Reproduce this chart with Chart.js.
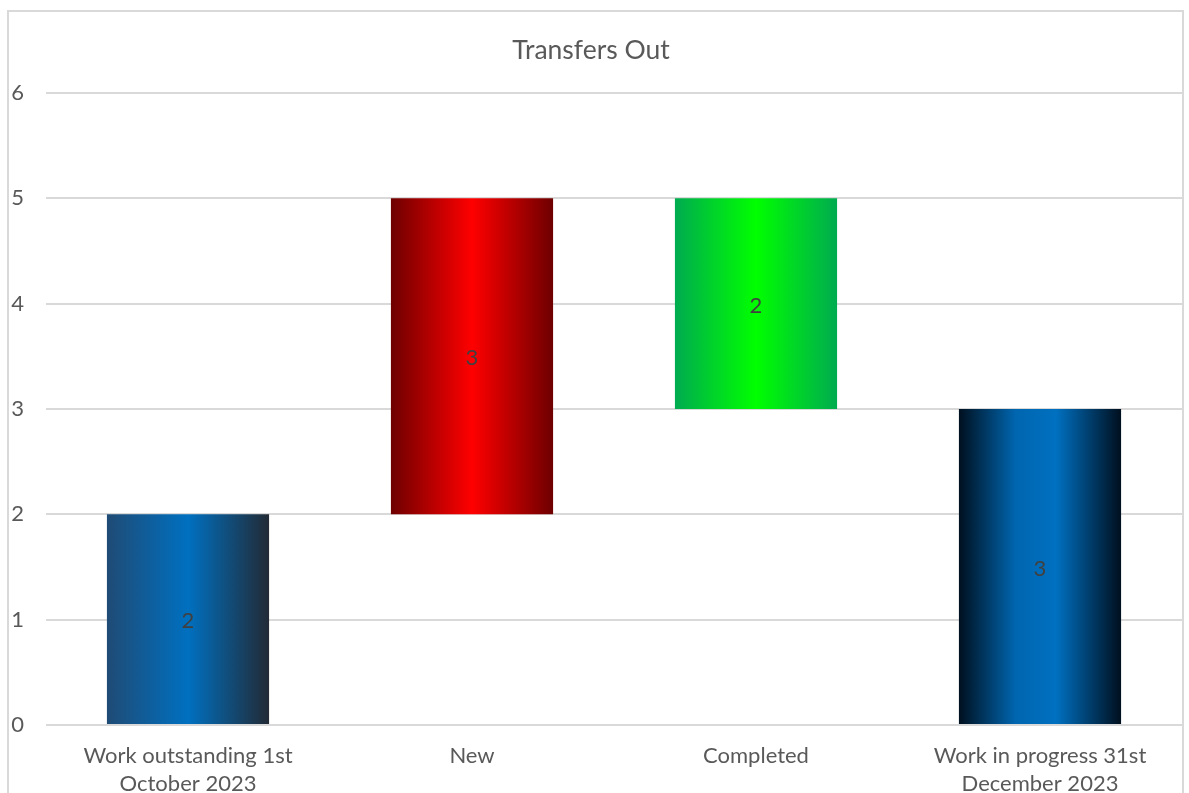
<!DOCTYPE html>
<html>
<head>
<meta charset="utf-8">
<title>Transfers Out</title>
<script src="https://cdn.jsdelivr.net/npm/chart.js@4/dist/chart.umd.min.js"></script>
<style>
  html, body { margin: 0; padding: 0; background: #ffffff; }
  #wrap { width: 1189px; height: 793px; }
</style>
</head>
<body>
<div id="wrap"><canvas id="chart" width="1189" height="793"></canvas></div>
<script>
// Waterfall: opening balance, movements, closing balance
const categories = [
  ['Work outstanding 1st', 'October 2023'],
  'New',
  'Completed',
  ['Work in progress 31st', 'December 2023']
];
const amounts = [2, 3, 2, 3];
const kinds = ['total', 'increase', 'decrease', 'total'];
const yTicks = [0, 1, 2, 3, 4, 5, 6];

// Horizontal gradient stops for each bar (cylinder-like shading)
const barShades = [
  [[0, '#1f4b75'], [0.5, '#0070c0'], [1, '#222a35']],
  [[0, '#6e0000'], [0.5, '#ff0000'], [1, '#6e0000']],
  [[0, '#00ab50'], [0.5, '#00ff00'], [1, '#00ab50']],
  [[0, '#00101f'], [0.35, '#0066b0'], [0.6, '#0070c0'], [1, '#000f1e']]
];

// Build floating [from, to] ranges from the running total
const ranges = [];
let running = 0;
amounts.forEach((v, i) => {
  if (kinds[i] === 'total') { running = v; ranges.push([0, v]); }
  else if (kinds[i] === 'increase') { ranges.push([running, running + v]); running += v; }
  else { ranges.push([running - v, running]); running -= v; }
});

const FONT = 'Lato, "Open Sans", sans-serif';
const TEXT = '#595959';
const GRID = '#d9d9d9';
const BAR_PCT = 0.571;

function barGradient(ctx) {
  const chart = ctx.chart;
  const xs = chart.scales.x;
  const i = ctx.dataIndex;
  if (!chart.chartArea || !xs || i === undefined) return barShades[i || 0][1][1];
  const center = xs.getPixelForValue(i);
  const half = (xs.width / categories.length) * BAR_PCT / 2;
  const g = chart.ctx.createLinearGradient(center - half, 0, center + half, 0);
  barShades[i].forEach(([p, c]) => g.addColorStop(p, c));
  return g;
}

// Outer frame of the chart
const framePlugin = {
  id: 'frame',
  beforeDraw(chart) {
    const c = chart.ctx;
    c.save();
    c.strokeStyle = GRID;
    c.lineWidth = 2;
    c.strokeRect(8, 11, 1175, 900);
    c.restore();
  }
};

// Amount labels centred inside each bar
const valueLabels = {
  id: 'valueLabels',
  afterDatasetsDraw(chart) {
    const c = chart.ctx;
    const meta = chart.getDatasetMeta(0);
    c.save();
    c.fillStyle = '#404040';
    c.font = '22px ' + FONT;
    c.textAlign = 'center';
    c.textBaseline = 'middle';
    meta.data.forEach((bar, i) => {
      c.fillText(String(amounts[i]), bar.x, (bar.y + bar.base) / 2 + 2);
    });
    c.restore();
  }
};

new Chart(document.getElementById('chart'), {
  type: 'bar',
  data: {
    labels: categories,
    datasets: [{
      data: ranges,
      backgroundColor: barGradient,
      borderWidth: 0,
      borderSkipped: false,
      categoryPercentage: 1,
      barPercentage: BAR_PCT
    }]
  },
  options: {
    responsive: false,
    animation: false,
    layout: { padding: { left: 0, right: 7, top: 0, bottom: 0 } },
    plugins: {
      legend: { display: false },
      tooltip: { enabled: false },
      title: {
        display: true,
        text: 'Transfers Out',
        color: TEXT,
        font: { family: FONT, size: 26.5, weight: 'normal' },
        padding: { top: 35, bottom: 26 }
      }
    },
    scales: {
      x: {
        grid: { display: false },
        border: { display: false },
        ticks: {
          color: TEXT,
          font: { family: FONT, size: 22, lineHeight: 1.27 },
          padding: 9,
          maxRotation: 0,
          autoSkip: false
        },
        afterFit(scale) { scale.height = 68; }
      },
      y: {
        min: 0,
        max: 6,
        afterBuildTicks(scale) { scale.ticks = yTicks.map(v => ({ value: v })); },
        grid: { color: GRID, lineWidth: 2, drawTicks: false },
        border: { display: false },
        ticks: {
          color: TEXT,
          font: { family: FONT, size: 22 },
          padding: 22
        },
        afterFit(scale) { scale.width = 46; }
      }
    }
  },
  plugins: [framePlugin, valueLabels]
});
</script>
</body>
</html>
